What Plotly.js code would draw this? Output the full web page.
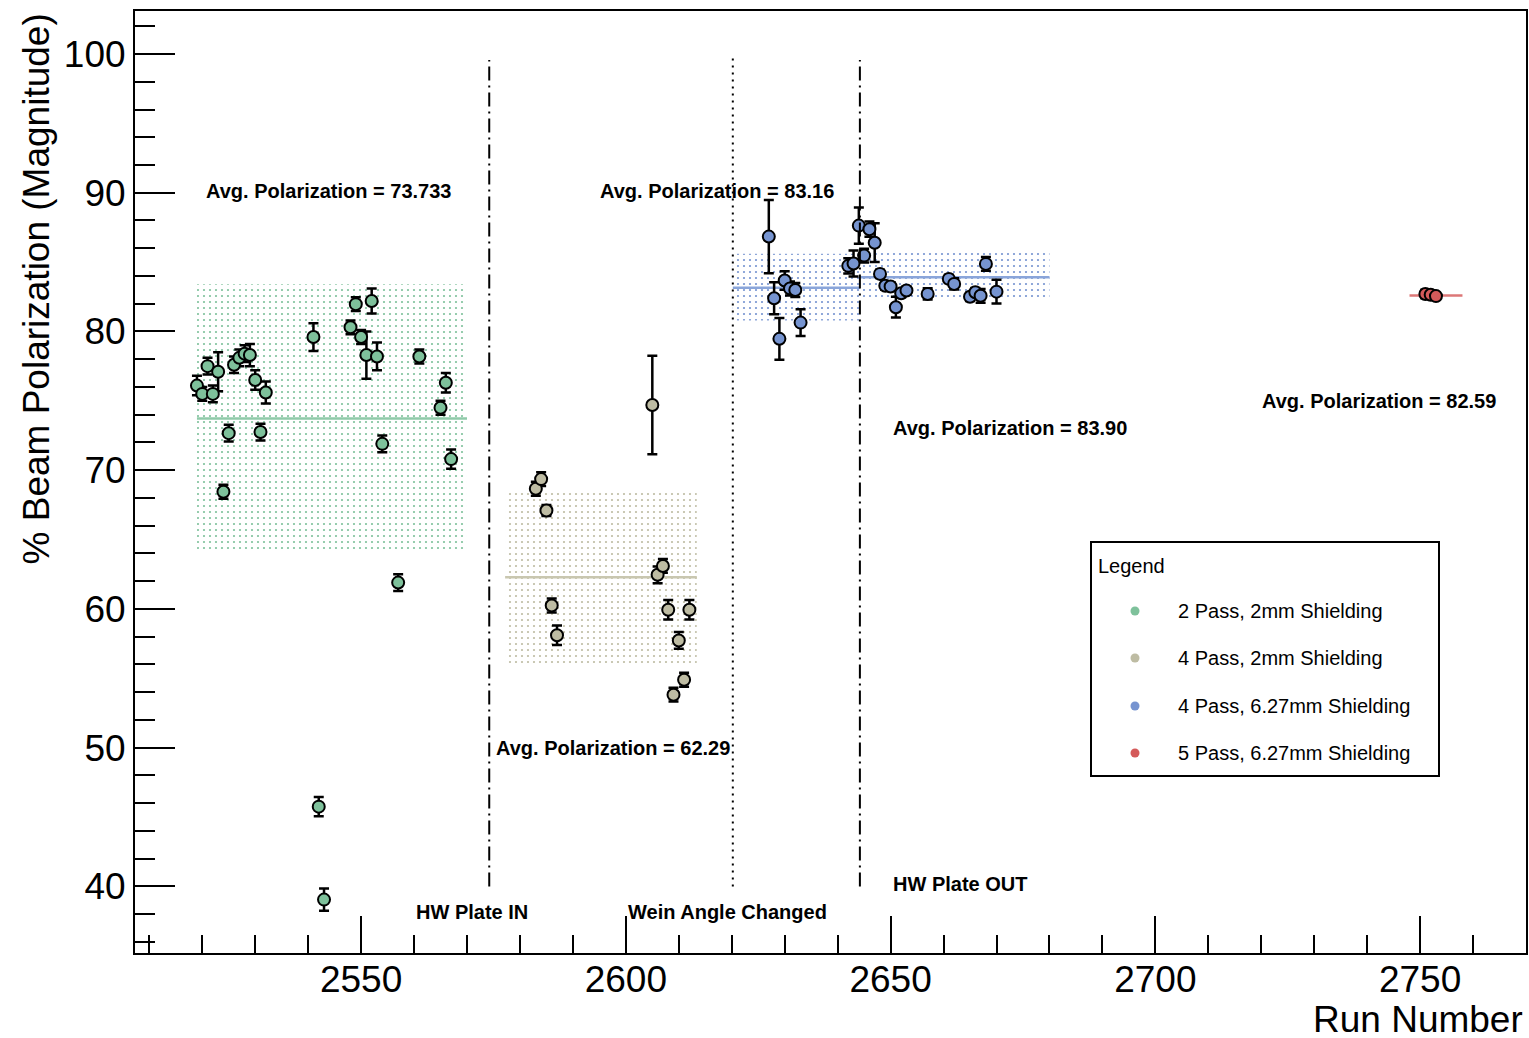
<!DOCTYPE html>
<html>
<head>
<meta charset="utf-8">
<script src="https://cdn.plot.ly/plotly-3.0.1.min.js"></script>
<style>html,body{margin:0;padding:0;background:#fff;}#chart{width:1529px;height:1038px;}</style>
</head>
<body>
<div id="chart"></div>
<script>
// ---------- data ----------
const seriesNames = ["2 Pass, 2mm Shielding", "4 Pass, 2mm Shielding", "4 Pass, 6.27mm Shielding", "5 Pass, 6.27mm Shielding"];
const seriesColors = ["#7ec19b", "#bebca3", "#7694d0", "#d45a5a"];
const lineColors = ["#8fcaa9", "#c9c7b0", "#8aa5da", "#dc7777"];

const greenRuns = [2519,2520,2521,2522,2523,2524,2525,2526,2527,2528,2529,2530,2531,2532,2541,2542,2543,2548,2549,2550,2551,2552,2553,2554,2557,2561,2565,2566,2567];
const greenPol  = [76.1,75.5,77.5,75.5,77.1,68.45,72.67,77.6,78.1,78.4,78.3,76.5,72.75,75.6,79.6,45.75,39.05,80.3,81.97,79.6,78.3,82.2,78.2,71.9,61.9,78.2,74.5,76.3,70.8];
const greenErr  = [0.7,0.5,0.6,0.6,1.4,0.5,0.6,0.6,0.6,0.6,0.8,0.7,0.6,0.8,1.0,0.7,0.8,0.5,0.5,0.5,1.7,0.9,1.0,0.6,0.6,0.5,0.5,0.7,0.7];

const tanRuns = [2583,2584,2585,2586,2587,2605,2606,2607,2608,2609,2610,2611,2612];
const tanPol  = [68.66,69.36,67.1,60.25,58.1,74.7,62.46,63.1,59.94,53.82,57.73,54.9,59.94];
const tanErr  = [0.5,0.5,0.4,0.5,0.7,3.55,0.6,0.5,0.7,0.5,0.6,0.5,0.7];

const blueRuns = [2627,2628,2629,2630,2631,2632,2633,2642,2643,2644,2645,2646,2647,2648,2649,2650,2651,2652,2653,2657,2661,2662,2665,2666,2667,2668,2670];
const bluePol  = [86.84,82.4,79.47,83.67,83.1,82.99,80.64,84.73,84.9,87.63,85.47,87.37,86.4,84.15,83.3,83.24,81.75,82.76,82.95,82.71,83.79,83.43,82.5,82.83,82.57,84.87,82.87];
const blueErr  = [2.64,1.15,1.5,0.67,0.5,0.5,0.96,0.55,0.94,1.3,0.5,0.55,1.4,0.3,0.3,0.3,0.75,0.3,0.3,0.4,0.3,0.4,0.3,0.3,0.5,0.5,0.86];

const redRuns = [2751,2752,2753];
const redPol  = [82.7,82.65,82.55];
const redErr  = [0.3,0.3,0.2];

// average segments
const avgSeries = [0, 1, 2, 2, 3];
const avgStart  = [2519, 2577.2, 2620.2, 2644.2, 2748];
const avgEnd    = [2570, 2613.4, 2644.2, 2680, 2758];
const avgValue  = [73.733, 62.29, 83.16, 83.90, 82.59];
const bandLow   = [64.2, 56.1, 80.8, 82.23, null];
const bandHigh  = [83.4, 68.5, 85.6, 85.7, null];

// labels
const avgLabelText = ["Avg. Polarization = 73.733", "Avg. Polarization = 83.16", "Avg. Polarization = 62.29", "Avg. Polarization = 83.90", "Avg. Polarization = 82.59"];
const avgLabelRun  = [2520.35, 2594.76, 2575.1, 2650.1, 2719.8];
const avgLabelPol  = [90.12, 90.12, 49.96, 73.04, 74.98];

const eventText = ["HW Plate IN", "Wein Angle Changed", "HW Plate OUT"];
const eventLabelRun = [2560.0, 2600.05, 2650.1];
const eventLabelPol = [38.14, 38.14, 40.16];
const eventLineRun  = [2574.2, 2620.2, 2644.2];
const eventLineTop  = [99.57, 99.93, 99.57];
const eventLineDash = ["14px,5px,2px,5px", "2px,5px", "14px,5px,2px,5px"];
const eventLineBottom = 40;

const legendTitle = "Legend";

// ---------- traces ----------
const FONT = "Liberation Sans, Arial, Helvetica, sans-serif";
const traces = [];

for (let i = 0; i < avgSeries.length; i++) {
  if (bandLow[i] === null) continue;
  const c = seriesColors[avgSeries[i]];
  traces.push({
    type: "scatter", mode: "lines",
    x: [avgStart[i], avgEnd[i], avgEnd[i], avgStart[i], avgStart[i]],
    y: [bandLow[i], bandLow[i], bandHigh[i], bandHigh[i], bandLow[i]],
    fill: "toself", fillcolor: "rgba(0,0,0,0)",
    fillpattern: {shape: ".", fgcolor: c, bgcolor: "rgba(0,0,0,0)", size: 6, solidity: 0.11},
    line: {width: 0}, showlegend: false, hoverinfo: "skip"
  });
}
for (let i = 0; i < avgSeries.length; i++) {
  traces.push({
    type: "scatter", mode: "lines",
    x: [avgStart[i], avgEnd[i]], y: [avgValue[i], avgValue[i]],
    line: {color: lineColors[avgSeries[i]], width: 2.5},
    showlegend: false, hoverinfo: "skip"
  });
}
const dataSets = [
  [greenRuns, greenPol, greenErr],
  [tanRuns, tanPol, tanErr],
  [blueRuns, bluePol, blueErr],
  [redRuns, redPol, redErr]
];
dataSets.forEach((d, i) => {
  traces.push({
    type: "scatter", mode: "markers",
    x: d[0], y: d[1], name: seriesNames[i],
    error_y: {type: "data", array: d[2], visible: true, color: "#000", thickness: 2.5, width: 5},
    marker: {color: seriesColors[i], size: 12, line: {color: "#000", width: 2}},
    showlegend: false
  });
});

// ---------- shapes ----------
const shapes = eventLineRun.map((r, i) => ({
  type: "line", xref: "x", yref: "y",
  x0: r, x1: r, y0: eventLineBottom, y1: eventLineTop[i],
  line: {color: "#000", width: 2, dash: eventLineDash[i]}
}));

// legend box (paper coords)
const PL = 135, PW = 1391, PB = 953, PH = 942;
const px = v => (v - PL) / PW;
const py = v => (PB - v) / PH;
shapes.push({
  type: "rect", xref: "paper", yref: "paper",
  x0: px(1091), x1: px(1439), y0: py(776), y1: py(542),
  line: {color: "#000", width: 2}, fillcolor: "#fff", layer: "above"
});
const legendRowY = [611, 658, 706, 753];
seriesNames.forEach((n, i) => {
  shapes.push({
    type: "circle", xref: "paper", yref: "paper",
    xsizemode: "pixel", ysizemode: "pixel",
    xanchor: px(1135), yanchor: py(legendRowY[i]),
    x0: -4.5, x1: 4.5, y0: -4.5, y1: 4.5,
    line: {width: 0}, fillcolor: seriesColors[i], layer: "above"
  });
});

// ---------- annotations ----------
const annotations = [];
avgLabelText.forEach((t, i) => annotations.push({
  text: "<b>" + t + "</b>", x: avgLabelRun[i], y: avgLabelPol[i], xref: "x", yref: "y",
  xanchor: "left", yanchor: "middle", showarrow: false,
  font: {family: FONT, size: 20, color: "#000"}
}));
eventText.forEach((t, i) => annotations.push({
  text: "<b>" + t + "</b>", x: eventLabelRun[i], y: eventLabelPol[i], xref: "x", yref: "y",
  xanchor: "left", yanchor: "middle", showarrow: false,
  font: {family: FONT, size: 20, color: "#000"}
}));
annotations.push({
  text: legendTitle, xref: "paper", yref: "paper", x: px(1096), y: py(566),
  xanchor: "left", yanchor: "middle", showarrow: false,
  font: {family: FONT, size: 20, color: "#000"}
});
seriesNames.forEach((n, i) => annotations.push({
  text: n, xref: "paper", yref: "paper", x: px(1176), y: py(legendRowY[i]),
  xanchor: "left", yanchor: "middle", showarrow: false,
  font: {family: FONT, size: 20, color: "#000"}
}));
annotations.push({
  text: "% Beam Polarization (Magnitude)", textangle: -90,
  xref: "paper", yref: "paper", x: -0.0705, y: 1.0, xanchor: "center", yanchor: "top",
  showarrow: false, font: {family: FONT, size: 37, color: "#000"}
});
annotations.push({
  text: "Run Number", height: 34, borderpad: 0,
  xref: "paper", yref: "paper", x: 0.9986, y: py(1037), xanchor: "right", yanchor: "bottom",
  showarrow: false, font: {family: FONT, size: 37, color: "#000"}
});

const layout = {
  width: 1529, height: 1038,
  margin: {l: 135, r: 3, t: 11, b: 85},
  paper_bgcolor: "#fff", plot_bgcolor: "#fff",
  font: {family: FONT, color: "#000"},
  showlegend: false,
  xaxis: {
    range: [2507.3, 2770], tick0: 2550, dtick: 50,
    ticks: "inside", ticklen: 37, tickwidth: 2, tickcolor: "#000",
    ticklabelstandoff: -7,
    minor: {dtick: 10, tick0: 2550, ticks: "inside", ticklen: 18, tickwidth: 2, tickcolor: "#000"},
    showline: true, linewidth: 2, linecolor: "#000", mirror: true,
    showgrid: false, zeroline: false,
    tickfont: {family: FONT, size: 37, color: "#000"}
  },
  yaxis: {
    range: [35.2, 103.1], tick0: 40, dtick: 10,
    ticks: "inside", ticklen: 40, tickwidth: 2, tickcolor: "#000",
    minor: {dtick: 2, tick0: 40, ticks: "inside", ticklen: 20, tickwidth: 2, tickcolor: "#000"},
    showline: true, linewidth: 2, linecolor: "#000", mirror: true,
    showgrid: false, zeroline: false,
    tickfont: {family: FONT, size: 37, color: "#000"}
  },
  shapes: shapes,
  annotations: annotations
};

Plotly.newPlot("chart", traces, layout, {displayModeBar: false, staticPlot: true});
</script>
</body>
</html>
